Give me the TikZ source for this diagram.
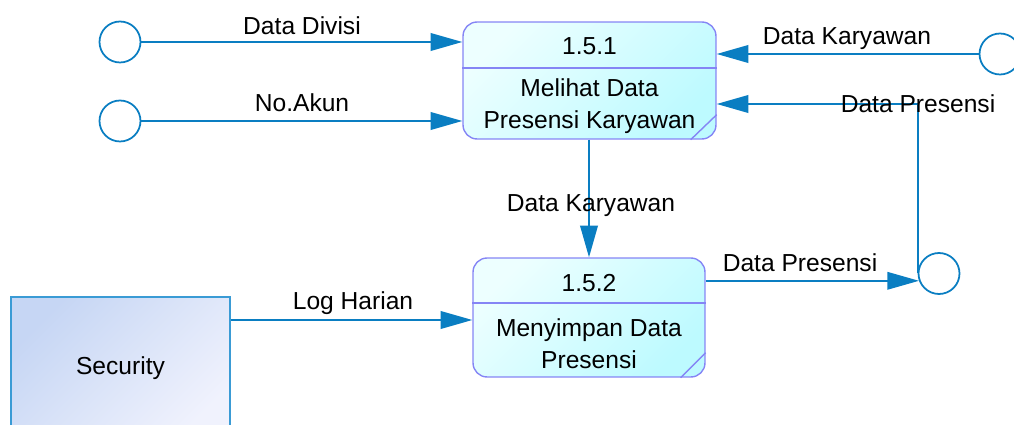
\documentclass[tikz,border=0pt]{standalone}
\usepackage{fontspec}
\setmainfont{Liberation Sans}
\usetikzlibrary{arrows.meta}

\definecolor{flow}{HTML}{0A7EC2}
\definecolor{procline}{HTML}{8585F5}
\definecolor{procA}{HTML}{EDFFFF}
\definecolor{procB}{HTML}{BDFAFF}
\definecolor{entline}{HTML}{3A9BD5}
\definecolor{entA}{HTML}{C6D6F4}
\definecolor{entB}{HTML}{F0F2FD}

\tikzset{
  proses/.style={draw=procline, line width=.8pt, rounded corners=8pt,
    top color=procA, bottom color=procB, shading angle=45, inner sep=0pt},
  store/.style={circle, draw=flow, line width=1pt, fill=white,
    minimum size=.82cm, inner sep=0pt},
  ent/.style={draw=entline, line width=1pt, top color=entA, bottom color=entB,
    shading angle=45, inner sep=0pt},
  alir/.style={draw=flow, line width=1pt, -{Triangle[length=18pt,width=10pt]}},
  lbl/.style={anchor=base, inner sep=0pt}
}

\begin{document}
\begin{tikzpicture}[x=.02cm, y=-.02cm, font=\fontsize{14}{18}\selectfont]
\useasboundingbox (0,0) rectangle (1014,425);

% proses dan entitas
\node[proses, minimum width=5.06cm, minimum height=2.34cm] (p1) at (589.5,80.5) {};
\node[proses, minimum width=4.64cm, minimum height=2.38cm] (p2) at (589,317.5) {};
\node[ent, minimum width=4.38cm, minimum height=2.86cm] (sec) at (120.5,368.5) {Security};

\draw[procline, line width=.8pt] (p1.west |- 0,68) -- (p1.east |- 0,68);
\draw[procline, line width=.8pt] (p2.west |- 0,303) -- (p2.east |- 0,303);
\draw[procline, line width=.8pt] (p1.south east) ++(-26,0) -- ++(26,-25);
\draw[procline, line width=.8pt] (p2.south east) ++(-25,0) -- ++(25,-25);

\node (n1) at (589.5,46) {1.5.1};
\node[align=center, inner sep=0pt] (m1) at (589.5,106) {Melihat Data\\Presensi Karyawan};
\node (n2) at (589,283) {1.5.2};
\node[align=center, inner sep=0pt] (m2) at (589,343.5) {Menyimpan Data\\Presensi};

% simpanan
\node[store] (d1) at (120,42) {};
\node[store] (d2) at (120,121) {};
\node[store] (s3) at (1000,54) {};
\node[store] (s4) at (939,273.5) {};

% aliran data
\draw[alir] (d1) -- (d1 -| p1.west);
\draw[alir] (d2) -- (d2 -| p1.west);
\draw[alir] (s3) -- (s3 -| p1.east);
\draw[alir] (s4.west) |- (p1.east |- 0,104);
\draw[alir] (p2.north |- p1.south) -- (p2.north);
\draw[alir] (sec.east |- 0,320) -- (p2.west |- 0,320);
\draw[alir] (p2.east |- s4.200) -- (s4.200);

\node[lbl] (l1) at (302,35) {Data Divisi};
\node[lbl] (l2) at (302,112) {No.Akun};
\node[lbl] (l3) at (847,45) {Data Karyawan};
\node[lbl] (l4) at (918,113) {Data Presensi};
\node[lbl] (l5) at (591,212) {Data Karyawan};
\node[lbl] (l6) at (800,272) {Data Presensi};
\node[lbl] (l7) at (353,310) {Log Harian};

\end{tikzpicture}
\end{document}
